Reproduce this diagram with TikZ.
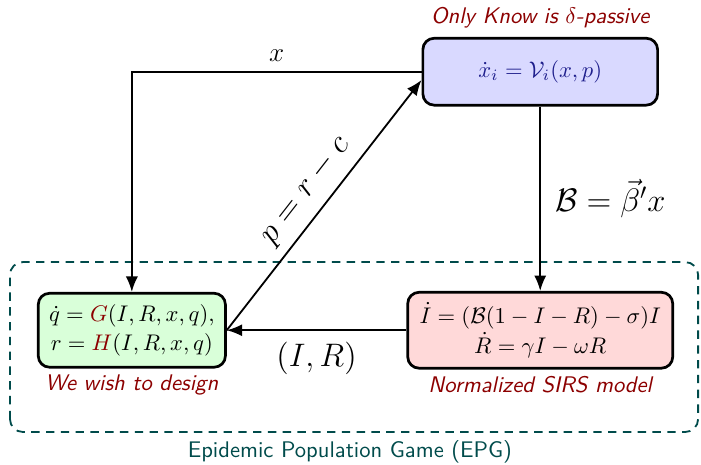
\documentclass[tikz,border=0pt]{standalone}
\usepackage{amsmath}
\usepackage{amssymb}
\usepackage{xcolor}
\usepackage{tikz}
\usetikzlibrary{arrows.meta,positioning,calc}
\definecolor{tealdark}{RGB}{0,75,75}
\definecolor{notered}{RGB}{140,0,0}
\definecolor{mathblue}{RGB}{30,30,140}
\tikzset{
  sysbox/.style={draw=black,very thick,rounded corners=5pt,align=center,
                 inner sep=2pt,font=\normalsize},
  agentbox/.style={sysbox,fill=blue!15,minimum width=36.5mm,minimum height=10.4mm},
  gamebox/.style={sysbox,fill=green!15,minimum width=29.1mm,minimum height=11.5mm},
  sirsbox/.style={sysbox,fill=red!15,minimum width=41.2mm,minimum height=11.8mm},
  sig/.style={-{Latex[length=2.4mm,width=1.9mm]},thick,draw=black},
  note/.style={font=\sffamily\itshape,text=notered,inner sep=1pt},
}
\begin{document}
\begin{tikzpicture}[x=1mm,y=1mm]
  \useasboundingbox (0,0) rectangle (109,72.15);

  \node[agentbox] (agent) at (84,61)   {\color{mathblue}$\dot{x}_i=\mathcal{V}_i(x,p)$};
  \node[gamebox]  (game)  at (20.5,20.8) {$\dot{q}=\textcolor{notered}{G}(I,R,x,q),$\\[1pt]
                                          $r=\textcolor{notered}{H}(I,R,x,q)$};
  \node[sirsbox]  (sirs)  at (84,20.8) {$\dot{I}=(\mathcal{B}(1-I-R)-\sigma)I$\\[1.5pt]
                                        $\dot{R}=\gamma I-\omega R$};

  \node[note] (agentnote) at (84,69.4)   {Only Know is $\delta$-passive};
  \node[note] (gamenote)  at (20.5,12.3) {We wish to design};
  \node[note] (sirsnote)  at (84,12.3)   {Normalized SIRS model};

  % le cadre pointille du jeu
  \draw[tealdark,thick,dash pattern=on 1.3mm off 1mm,rounded corners=2mm]
    (1.55,4.98) rectangle (108.55,31.4);
  \node[font=\sffamily,text=tealdark] (epg) at (54.4,1.9) {Epidemic Population Game (EPG)};

  \draw[sig] (agent.west) -| node[pos=0.25,above=0.2mm,font=\large]{$x$} (game.north);
  \draw[sig] (game.east) -- node[sloped,above=0.3mm,font=\Large]{$p=r-c$} (agent.184);
  \draw[sig] (agent.south) -- node[right=1mm,font=\Large]{$\mathcal{B}=\vec{\beta}'x$} (sirs.north);
  \draw[sig] (sirs.west) -- node[below=0.6mm,font=\Large]{$(I,R)$} (game.east);
\end{tikzpicture}
\end{document}
